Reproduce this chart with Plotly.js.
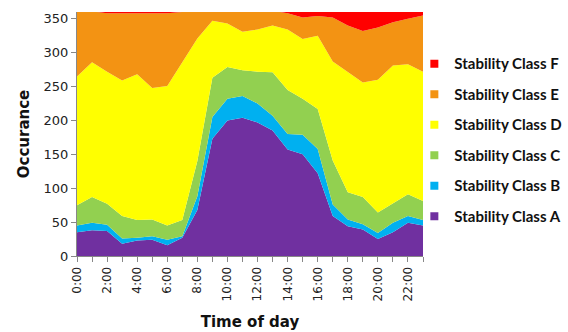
<!DOCTYPE html>
<html>
<head>
<meta charset="utf-8">
<script src="https://cdn.plot.ly/plotly-3.0.1.min.js"></script>
<style>html,body{margin:0;padding:0;background:#fff;}#chart{width:568px;height:332px;}</style>
</head>
<body>
<div id="chart"></div>
<script>
var hours = [0,1,2,3,4,5,6,7,8,9,10,11,12,13,14,15,16,17,18,19,20,21,22,23];
var tickHours = [0,2,4,6,8,10,12,14,16,18,20,22];
var tickLabels = ["0:00","2:00","4:00","6:00","8:00","10:00","12:00","14:00","16:00","18:00","20:00","22:00"];
var classA = [35,38,37,18,23,24,16,27,68,173,200,204,197,185,157,150,122,59,44,39,25,35,49,45];
var classB = [10,11,9,8,4,5,8,2,20,32,32,32,28,22,23,29,36,17,10,8,9,14,10,8];
var classC = [30,38,31,33,26,25,21,24,52,58,47,38,47,64,65,53,59,65,40,40,30,28,32,28];
var classD = [190,199,195,200,215,194,206,232,181,84,64,57,62,69,89,88,108,146,177,169,196,204,192,191];
var classE = [97,75,86,99,89,109,107,75,40,15,19,31,28,22,24,32,29,65,69,76,77,64,67,83];
var classF = [3,4,7,7,8,8,7,5,4,3,3,3,3,3,7,13,11,13,25,33,28,20,15,10];
var names = ["Stability Class A","Stability Class B","Stability Class C","Stability Class D","Stability Class E","Stability Class F"];
var colors = ["#7030A0","#00B0F0","#92D050","#FFFF00","#F39313","#FF0000"];
var series = [classA,classB,classC,classD,classE,classF];

var data = [];
for (var i = 0; i < series.length; i++) {
  data.push({
    x: hours, y: series[i], type: 'scatter', mode: 'lines',
    stackgroup: 'one', line: {width: 0}, fillcolor: colors[i],
    showlegend: false, hoverinfo: 'skip'
  });
}
for (var j = series.length - 1; j >= 0; j--) {
  data.push({
    x: [null], y: [null], type: 'scatter', mode: 'markers',
    name: names[j], marker: {symbol: 'square', size: 8, color: colors[j]},
    showlegend: true, legendgroup: 'g' + j
  });
}

var layout = {
  width: 568, height: 332,
  margin: {l: 77, r: 145, t: 12, b: 76, autoexpand: false},
  paper_bgcolor: '#fff', plot_bgcolor: '#fff',
  font: {family: 'DejaVu Sans, Verdana, sans-serif', size: 12, color: '#222'},
  xaxis: {
    range: [0, 23], tickvals: tickHours, ticktext: tickLabels, tickangle: -90,
    showgrid: false, zeroline: false, showline: true, linecolor: '#888', linewidth: 1,
    ticks: 'outside', ticklen: 5, tickcolor: '#888',
    minor: {dtick: 1, ticks: 'outside', ticklen: 5, tickcolor: '#888', showgrid: false},
    tickfont: {family: 'DejaVu Sans, Verdana, sans-serif', size: 12, color: '#222'},
    title: {text: 'Time of day', font: {family: 'DejaVu Sans, Verdana, sans-serif', size: 15, color: '#111', weight: 'bold'}, standoff: 16}
  },
  yaxis: {
    range: [0, 360], dtick: 50, tick0: 0,
    showgrid: false, zeroline: false, showline: true, linecolor: '#888', linewidth: 1,
    ticks: 'outside', ticklen: 5, tickcolor: '#888',
    tickfont: {family: 'DejaVu Sans, Verdana, sans-serif', size: 13, color: '#222'},
    title: {text: 'Occurance', font: {family: 'DejaVu Sans, Verdana, sans-serif', size: 15, color: '#111', weight: 'bold'}, standoff: 10}
  },
  legend: {
    x: 0.975, xanchor: 'left', y: 0.855, yanchor: 'top',
    font: {family: 'Lato, Noto Sans, sans-serif', size: 15, color: '#111', weight: 'bold'},
    tracegroupgap: 8, bgcolor: 'rgba(0,0,0,0)', itemwidth: 30
  },
  showlegend: true
};

Plotly.newPlot('chart', data, layout, {staticPlot: true, displayModeBar: false});
</script>
</body>
</html>
